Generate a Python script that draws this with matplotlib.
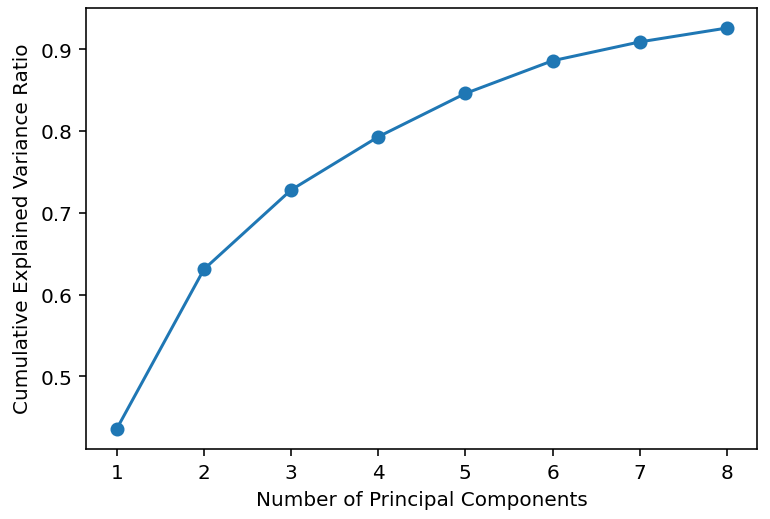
import matplotlib
matplotlib.use('Agg')
import matplotlib.pyplot as plt

# 主成分个数和累计方差解释率
n_components = [1, 2, 3, 4, 5, 6, 7, 8]
cum_ratio = [0.436, 0.631, 0.728, 0.793, 0.846, 0.886, 0.909, 0.926]

fig = plt.figure(figsize=(5.35, 3.61), dpi=144)
ax = fig.add_axes([0.112, 0.135, 0.871, 0.848])
ax.plot(n_components, cum_ratio, marker='o', color='#1f77b4')
ax.set_xlabel('Number of Principal Components')
ax.set_ylabel('Cumulative Explained Variance Ratio')
ax.set_xticks(n_components)
ax.set_yticks([0.5, 0.6, 0.7, 0.8, 0.9])
fig.savefig('out.png', dpi=144)
